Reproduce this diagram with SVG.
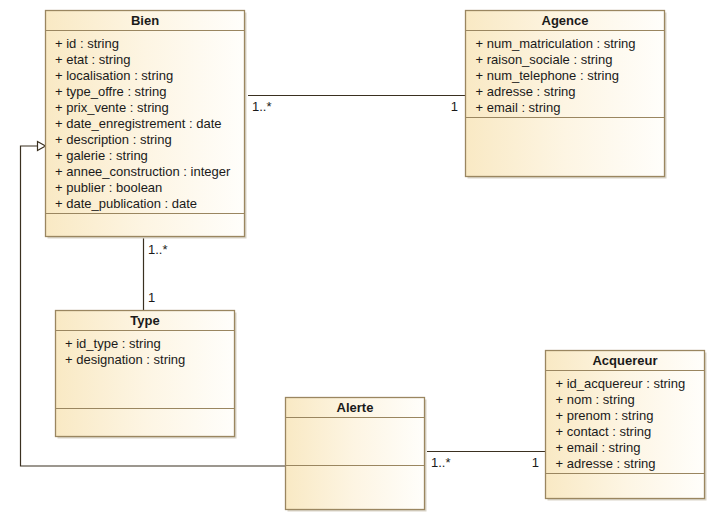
<svg xmlns="http://www.w3.org/2000/svg" width="716" height="521" viewBox="0 0 716 521">
<defs>
<linearGradient id="g" x1="0" y1="0" x2="1" y2="0">
<stop offset="0" stop-color="#f9e9c4"/>
<stop offset="0.5" stop-color="#fdf5e3"/>
<stop offset="1" stop-color="#fffefb"/>
</linearGradient>
</defs>
<style>
.sh{fill:#d9d4c8;stroke:none}
.box{fill:url(#g);stroke:#9a8660;stroke-width:1.3}
.sep{stroke:#9a8660;stroke-width:1.2}
.t{font-family:"Liberation Sans",Arial,sans-serif;font-size:13px;fill:#1a1a1a}
.h{font-family:"Liberation Sans",Arial,sans-serif;font-size:13px;font-weight:bold;fill:#1a1a1a;text-anchor:middle}
.ln{stroke:#3a3020;stroke-width:1.2;fill:none}
</style>
<rect width="716" height="521" fill="#ffffff"/>
<g id="connectors">
<line class="ln" x1="248" y1="95.5" x2="465" y2="95.5"/>
<text class="t" x="252" y="111">1..*</text>
<text class="t" x="458" y="111" text-anchor="end">1</text>
<line class="ln" x1="143.5" y1="238" x2="143.5" y2="310"/>
<text class="t" x="148" y="254">1..*</text>
<text class="t" x="148" y="302">1</text>
<polyline class="ln" points="285,466 20.5,466 20.5,146 37.5,146"/>
<polygon points="45.5,146 37.5,141.5 37.5,150.5" fill="#ffffff" stroke="#3a3020" stroke-width="1.2"/>
<line class="ln" x1="427" y1="451.5" x2="545" y2="451.5"/>
<text class="t" x="431" y="467">1..*</text>
<text class="t" x="539" y="467" text-anchor="end">1</text>
</g>
<g id="Bien">
<rect class="sh" x="47.5" y="12.5" width="199" height="226"/>
<rect class="box" x="45.5" y="10.5" width="199" height="226"/>
<text class="h" x="145" y="24.5">Bien</text>
<line class="sep" x1="45.5" y1="30.5" x2="244.5" y2="30.5"/>
<text class="t" x="55" y="47.5">+ id : string</text>
<text class="t" x="55" y="63.5">+ etat : string</text>
<text class="t" x="55" y="79.5">+ localisation : string</text>
<text class="t" x="55" y="95.5">+ type_offre : string</text>
<text class="t" x="55" y="111.5">+ prix_vente : string</text>
<text class="t" x="55" y="127.5">+ date_enregistrement : date</text>
<text class="t" x="55" y="143.5">+ description : string</text>
<text class="t" x="55" y="159.5">+ galerie : string</text>
<text class="t" x="55" y="175.5">+ annee_construction : integer</text>
<text class="t" x="55" y="191.5">+ publier : boolean</text>
<text class="t" x="55" y="207.5">+ date_publication : date</text>
<line class="sep" x1="45.5" y1="213.5" x2="244.5" y2="213.5"/>
</g>
<g id="Agence">
<rect class="sh" x="467.5" y="12.5" width="199" height="166"/>
<rect class="box" x="465.5" y="10.5" width="199" height="166"/>
<text class="h" x="565" y="24.5">Agence</text>
<line class="sep" x1="465.5" y1="30.5" x2="664.5" y2="30.5"/>
<text class="t" x="475.5" y="47.5">+ num_matriculation : string</text>
<text class="t" x="475.5" y="63.5">+ raison_sociale : string</text>
<text class="t" x="475.5" y="79.5">+ num_telephone : string</text>
<text class="t" x="475.5" y="95.5">+ adresse : string</text>
<text class="t" x="475.5" y="111.5">+ email : string</text>
<line class="sep" x1="465.5" y1="117.5" x2="664.5" y2="117.5"/>
</g>
<g id="Type">
<rect class="sh" x="57.5" y="312.5" width="179" height="126"/>
<rect class="box" x="55.5" y="310.5" width="179" height="126"/>
<text class="h" x="145" y="324.5">Type</text>
<line class="sep" x1="55.5" y1="330.5" x2="234.5" y2="330.5"/>
<text class="t" x="65" y="347.5">+ id_type : string</text>
<text class="t" x="65" y="363.5">+ designation : string</text>
<line class="sep" x1="55.5" y1="408.5" x2="234.5" y2="408.5"/>
</g>
<g id="Alerte">
<rect class="sh" x="287.5" y="399.5" width="139" height="112"/>
<rect class="box" x="285.5" y="397.5" width="139" height="112"/>
<text class="h" x="355" y="411.5">Alerte</text>
<line class="sep" x1="285.5" y1="417.5" x2="424.5" y2="417.5"/>
<line class="sep" x1="285.5" y1="465.5" x2="424.5" y2="465.5"/>
</g>
<g id="Acquereur">
<rect class="sh" x="547.5" y="352.5" width="159" height="148"/>
<rect class="box" x="545.5" y="350.5" width="159" height="148"/>
<text class="h" x="625" y="364.5">Acquereur</text>
<line class="sep" x1="545.5" y1="370.5" x2="704.5" y2="370.5"/>
<text class="t" x="555.5" y="387.5">+ id_acquereur : string</text>
<text class="t" x="555.5" y="403.5">+ nom : string</text>
<text class="t" x="555.5" y="419.5">+ prenom : string</text>
<text class="t" x="555.5" y="435.5">+ contact : string</text>
<text class="t" x="555.5" y="451.5">+ email : string</text>
<text class="t" x="555.5" y="467.5">+ adresse : string</text>
<line class="sep" x1="545.5" y1="473.5" x2="704.5" y2="473.5"/>
</g>
</svg>
